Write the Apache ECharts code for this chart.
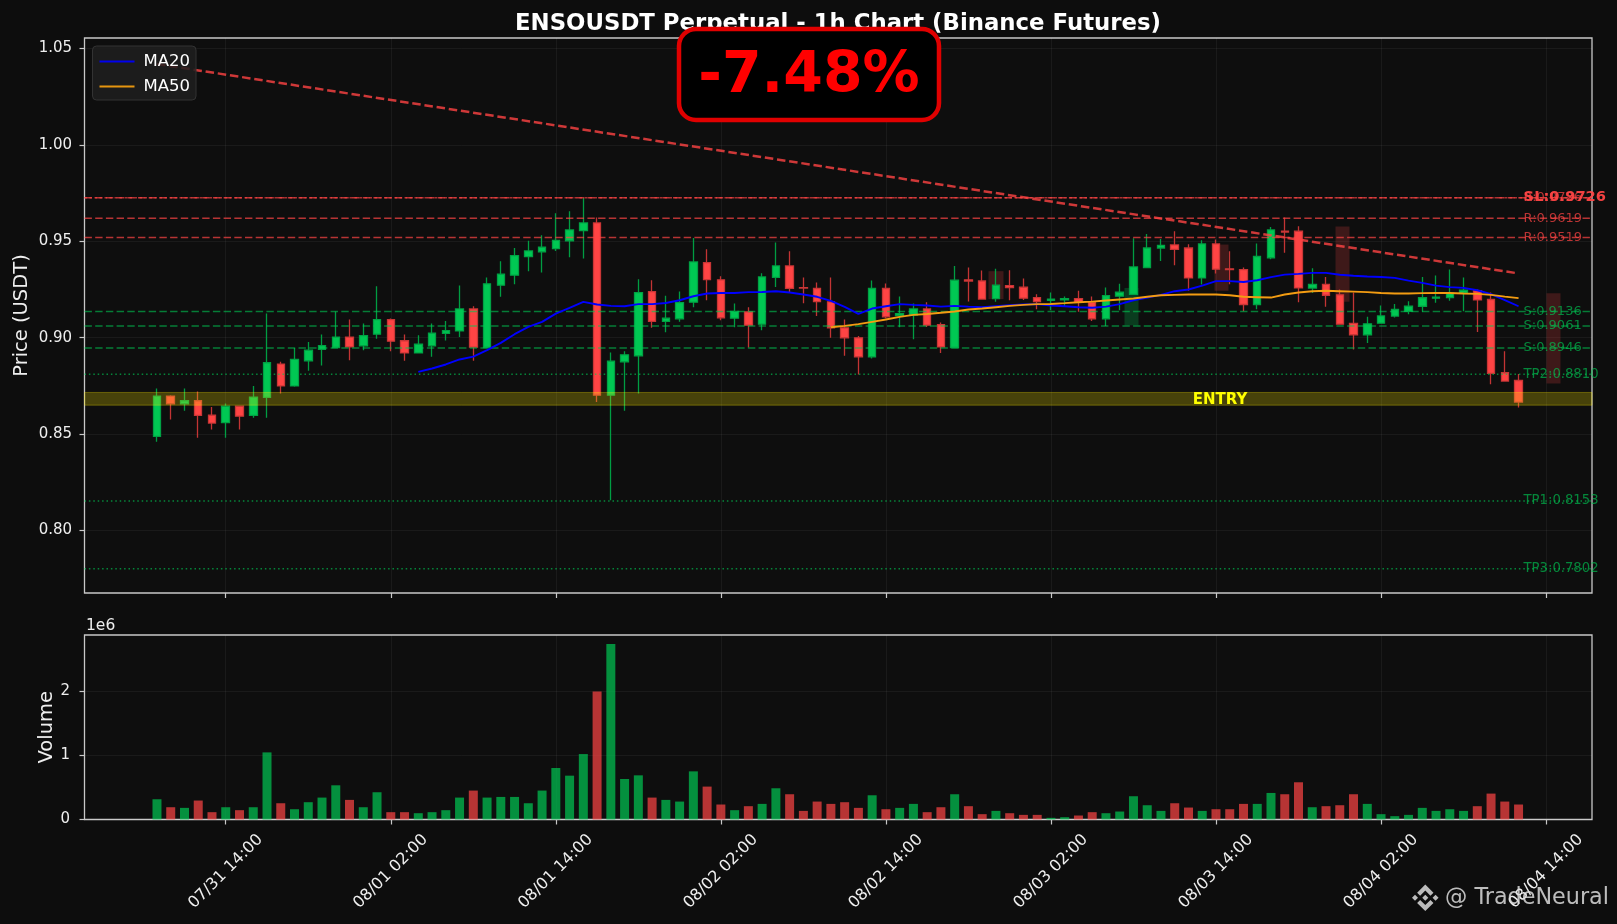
<!DOCTYPE html>
<html>
<head>
<meta charset="utf-8">
<style>html,body{margin:0;padding:0;background:#0d0d0d}#c{width:1617px;height:924px}</style>
<script src="https://cdn.jsdelivr.net/npm/echarts@6/dist/echarts.min.js"></script>
</head>
<body>
<div id="c"></div>
<script>
// x positions are hours counted from 07/31 00:00
const firstHour = 9;
const tickHours = [14, 26, 38, 50, 62, 74, 86, 98, 110];
const tickLabels = ['07/31 14:00','08/01 02:00','08/01 14:00','08/02 02:00','08/02 14:00','08/03 02:00','08/03 14:00','08/04 02:00','08/04 14:00'];
const priceTicks = [0.80, 0.85, 0.90, 0.95, 1.00, 1.05];
const volumeTicks = [0, 1000000, 2000000];

const opens = [.8488,.8697,.8657,.8673,.8598,.8560,.8645,.8597,.8690,.8863,.8750,.8880,.8940,.8949,.9003,.8958,.9018,.9094,.8984,.8921,
.8958,.9022,.9035,.9149,.8949,.9272,.9324,.9420,.9445,.9462,.9502,.9555,.9595,.8702,.8875,.8906,.9239,.9085,.9098,.9184,
.9389,.9300,.9101,.9134,.9070,.9313,.9372,.9260,.9255,.9186,.9051,.8999,.8901,.9255,.9115,.9117,.9149,.9068,.8949,.9300,
.9294,.9203,.9270,.9262,.9208,.9193,.9196,.9203,.9184,.9098,.9215,.9225,.9364,.9465,.9481,.9465,.9310,.9486,.9357,.9353,
.9172,.9414,.9552,.9552,.9257,.9276,.9222,.9074,.9015,.9075,.9112,.9136,.9163,.9205,.9208,.9232,.9243,.9198,.8818,.8778];
const closes = [.8697,.8657,.8673,.8597,.8557,.8645,.8593,.8692,.8870,.8750,.8887,.8935,.8959,.9003,.8952,.9011,.9094,.8982,.8921,.8966,
.9023,.9037,.9149,.8951,.9279,.9329,.9426,.9450,.9469,.9505,.9559,.9595,.8702,.8878,.8911,.9234,.9085,.9101,.9182,.9393,
.9301,.9103,.9136,.9065,.9315,.9372,.9256,.9257,.9187,.9051,.8999,.8901,.9255,.9108,.9125,.9149,.9065,.8952,.9298,.9294,
.9200,.9272,.9260,.9205,.9187,.9200,.9203,.9184,.9098,.9218,.9236,.9367,.9465,.9479,.9458,.9310,.9486,.9355,.9353,.9172,
.9421,.9559,.9548,.9258,.9276,.9220,.9070,.9015,.9072,.9113,.9146,.9163,.9207,.9210,.9231,.9246,.9196,.8815,.8775,.8666];
const lows = [.8460,.8576,.8621,.8481,.8524,.8481,.8524,.8585,.8585,.8711,.8745,.8828,.8856,.8947,.8883,.8935,.8994,.8930,.8880,.8921,
.8901,.8985,.9003,.8880,.8947,.9212,.9277,.9345,.9338,.9450,.9417,.9410,.8666,.8157,.8621,.8711,.9051,.9028,.9082,.9158,
.9194,.9091,.9054,.8949,.9039,.9263,.9236,.9179,.9113,.8999,.8906,.8809,.8892,.9099,.9054,.8992,.9056,.8921,.8947,.9187,
.9198,.9186,.9194,.9196,.9148,.9142,.9160,.9134,.9087,.9061,.9142,.9225,.9362,.9398,.9376,.9243,.9276,.9333,.9277,.9137,
.9148,.9407,.9440,.9184,.9232,.9160,.9068,.8939,.8973,.9074,.9105,.9122,.9134,.9181,.9191,.9137,.9030,.8759,.8771,.8638];
const highs = [.8737,.8702,.8737,.8721,.8640,.8659,.8645,.8749,.9125,.8875,.8947,.8978,.9016,.9136,.9094,.9073,.9267,.9099,.9016,.9013,
.9073,.9086,.9270,.9163,.9312,.9396,.9465,.9502,.9531,.9645,.9655,.9724,.9623,.8923,.8930,.9303,.9298,.9218,.9239,.9517,
.9458,.9319,.9177,.9158,.9334,.9493,.9448,.9312,.9286,.9312,.9094,.9009,.9296,.9281,.9213,.9177,.9184,.9079,.9372,.9364,
.9348,.9358,.9350,.9307,.9225,.9234,.9213,.9243,.9213,.9260,.9279,.9515,.9538,.9512,.9552,.9484,.9505,.9509,.9448,.9364,
.9488,.9574,.9623,.9578,.9360,.9315,.9250,.9234,.9108,.9167,.9174,.9189,.9315,.9322,.9353,.9312,.9250,.9234,.8930,.8811];
const volumes = [315,191,181,295,114,191,145,191,1044,253,160,269,341,532,305,191,424,114,114,98,
114,145,341,450,341,351,351,253,450,801,682,1018,1990,2729,630,687,341,305,279,749,
512,233,145,207,243,486,393,134,279,243,269,181,377,160,181,243,114,191,393,207,
83,134,98,72,72,26,36,62,114,98,124,362,222,134,253,186,134,160,160,243,
243,413,393,579,191,207,222,393,243,83,52,72,181,134,160,134,207,403,279,233];
const ma20Values = [.8823,.8840,.8861,.8887,.8902,.8935,.8973,.9018,.9056,.9082,.9125,.9155,.9186,.9172,.9165,.9163,.9174,.9174,.9180,.9194,
.9215,.9229,.9232,.9232,.9236,.9237,.9241,.9234,.9224,.9212,.9191,.9160,.9123,.9151,.9163,.9174,.9170,.9167,.9161,.9165,
.9161,.9158,.9163,.9168,.9172,.9174,.9167,.9163,.9158,.9155,.9161,.9174,.9194,.9208,.9222,.9241,.9250,.9270,.9293,.9293,
.9289,.9298,.9314,.9327,.9331,.9336,.9336,.9326,.9321,.9317,.9315,.9310,.9296,.9284,.9270,.9262,.9258,.9246,.9226,.9195,.9163];
const ma50Values = [.9054,.9061,.9070,.9082,.9094,.9108,.9118,.9123,.9129,.9136,.9146,.9151,.9158,.9165,.9170,.9174,.9175,.9179,.9184,.9187,
.9193,.9198,.9203,.9212,.9220,.9222,.9224,.9224,.9224,.9220,.9212,.9210,.9208,.9224,.9234,.9241,.9243,.9241,.9239,.9236,
.9232,.9229,.9229,.9231,.9232,.9232,.9229,.9227,.9222,.9213,.9205];
const trendValues = [1.0419, .9333];
const redLevels = [.9726, .9619, .9519];
const redNames = ['R:0.9726', 'R:0.9619', 'R:0.9519'];
const supportLevels = [.9136, .9061, .8946];
const supportNames = ['S:0.9136', 'S:0.9061', 'S:0.8946'];
const tpLevels = [.8810, .8153, .7802];
const tpNames = ['TP2:0.8810', 'TP1:0.8153', 'TP3:0.7802'];
const stopLevel = .9726;
const stopName = 'SL:0.9726';
const entryLow = .8650, entryHigh = .8716;
const entryHour = 86.3, entryLabelPrice = .8675;
const redZones = [[70, .9345, .92], [86.4, .9483, .9243], [95.2, .9576, .9186], [110.55, .9231, .8763]];
const greenZones = [[79.86, .9258, .9064]];

const BG = '#0d0d0d', TXT = '#eeeeee', SPINE = '#c8c8c8', UP = '#00c853', DOWN = '#ff4444';
const xMin = 3.73, xMax = 113.34;
const hourAt = i => firstHour + i;
const lastHour = hourAt(99);

const candleData = opens.map((o, i) => [hourAt(i), o, closes[i], lows[i], highs[i]]);
const volumeData = volumes.map((v, i) => ({
  value: [hourAt(i), v * 1000],
  itemStyle: { color: closes[i] >= opens[i] ? 'rgba(0,200,83,0.7)' : 'rgba(255,68,68,0.7)' }
}));
const ma20Data = ma20Values.map((v, i) => [hourAt(i + 19), v]);
const ma50Data = ma50Values.map((v, i) => [hourAt(i + 49), v]);

function hLine(v, color, type, width, opacity) {
  return {
    type: 'line', xAxisIndex: 0, yAxisIndex: 0, z: 6, silent: true, symbol: 'none',
    data: [[xMin, v], [xMax, v]],
    lineStyle: { color, type, width, opacity }
  };
}
function levelLabels(levels, names, color, extra) {
  return {
    type: 'scatter', xAxisIndex: 0, yAxisIndex: 0, z: 7, silent: true, symbolSize: 0, clip: false,
    itemStyle: { opacity: 1 },
    data: levels.map((v, i) => ({ value: [lastHour, v], name: names[i] })),
    label: Object.assign({ show: true, position: 'right', distance: 5, formatter: p => p.name,
      color, fontFamily: 'DejaVu Sans', fontSize: 13 }, extra || {})
  };
}
function zoneSeries(zones, color) {
  return {
    type: 'candlestick', xAxisIndex: 0, yAxisIndex: 0, z: 3, silent: true, barWidth: 15,
    data: zones.map(z => [z[0], z[2], z[1], z[2], z[1]]),
    itemStyle: { color, color0: color, borderColor: color, borderColor0: color, borderWidth: 0 }
  };
}
const tickFmt = v => { const k = tickHours.indexOf(v); return k >= 0 ? tickLabels[k] : ''; };
const splitStyle = { show: true, lineStyle: { color: 'rgba(255,255,255,0.05)', width: 1, type: 'solid' } };
const axisTickStyle = { show: true, length: 5, lineStyle: { color: SPINE, width: 1.2 } };
const iconPieces = [
  [[38.73,53.2],[63.3,28.63],[87.9,53.22],[102.2,38.92],[63.3,0],[24.43,38.9]],
  [[0,63.31],[14.3,49.01],[28.6,63.31],[14.3,77.61]],
  [[38.73,73.41],[63.3,97.98],[87.9,73.39],[102.21,87.69],[63.3,126.61],[24.42,87.72]],
  [[98.01,63.31],[112.31,49.01],[126.61,63.31],[112.31,77.61]],
  [[77.81,63.3],[63.3,48.79],[48.8,63.3],[63.3,77.81]]
];

const chart = echarts.init(document.getElementById('c'), null, { renderer: 'canvas' });
chart.setOption({
  animation: false,
  backgroundColor: BG,
  textStyle: { fontFamily: 'DejaVu Sans' },
  title: {
    text: 'ENSOUSDT Perpetual - 1h Chart (Binance Futures)', left: 833, top: 8, textAlign: 'center',
    textStyle: { color: '#ffffff', fontSize: 22.8, fontWeight: 'bold', fontFamily: 'DejaVu Sans' }
  },
  legend: {
    z: 20, left: 92.5, top: 46, orient: 'vertical', padding: [7, 6, 5, 7], itemGap: 8, itemWidth: 35, itemHeight: 2,
    backgroundColor: 'rgba(30,30,30,0.85)', borderColor: '#333333', borderWidth: 1, borderRadius: 4,
    textStyle: { color: '#ffffff', fontSize: 16.5, fontFamily: 'DejaVu Sans', padding: [0, 0, 0, 4] },
    data: [{ name: 'MA20', icon: 'rect' }, { name: 'MA50', icon: 'rect' }]
  },
  grid: [
    { left: 84.5, right: 25, top: 38, height: 555, show: true, outerBoundsMode: 'none', backgroundColor: '#0e0e0e', borderColor: SPINE, borderWidth: 1.3 },
    { left: 84.5, right: 25, top: 635, height: 184.5, show: true, outerBoundsMode: 'none', backgroundColor: '#0e0e0e', borderColor: SPINE, borderWidth: 1.3 }
  ],
  xAxis: [
    { type: 'value', gridIndex: 0, min: xMin, max: xMax, axisLine: { show: false },
      axisTick: Object.assign({ customValues: tickHours }, axisTickStyle),
      axisLabel: { show: false }, splitLine: splitStyle },
    { type: 'value', gridIndex: 1, min: xMin, max: xMax, axisLine: { show: false },
      axisTick: Object.assign({ customValues: tickHours }, axisTickStyle),
      axisLabel: { customValues: tickHours, formatter: tickFmt, rotate: 45, align: 'center', verticalAlign: 'middle',
        margin: 52, color: TXT, fontSize: 16, fontFamily: 'DejaVu Sans', hideOverlap: false },
      splitLine: splitStyle }
  ],
  yAxis: [
    { type: 'value', gridIndex: 0, min: .7676, max: 1.0554, axisLine: { show: false },
      axisTick: Object.assign({ customValues: priceTicks }, axisTickStyle),
      axisLabel: { customValues: priceTicks, formatter: v => v.toFixed(2), color: TXT, fontSize: 15, margin: 12.4, padding: [0, 0, 0, 0], fontFamily: 'DejaVu Sans', lineHeight: 17 },
      splitLine: splitStyle,
      name: 'Price (USDT)', nameLocation: 'middle', nameRotate: 90, nameGap: 53, nameMoveOverlap: false,
      nameTextStyle: { color: TXT, fontSize: 19.5, fontFamily: 'DejaVu Sans' } },
    { type: 'value', gridIndex: 1, min: 0, max: 2870000, axisLine: { show: false },
      axisTick: Object.assign({ customValues: volumeTicks }, axisTickStyle),
      axisLabel: { customValues: volumeTicks, formatter: v => String(v / 1000000), color: TXT, fontSize: 15, margin: 14.5, padding: [0, 0, 3, 0], fontFamily: 'DejaVu Sans' },
      splitLine: splitStyle,
      name: 'Volume', nameLocation: 'middle', nameRotate: 90, nameGap: 28, nameMoveOverlap: false,
      nameTextStyle: { color: TXT, fontSize: 19.5, fontFamily: 'DejaVu Sans' } }
  ],
  series: [
    zoneSeries(redZones, 'rgba(255,68,68,0.2)'),
    zoneSeries(greenZones, 'rgba(0,200,83,0.25)'),
    {
      type: 'candlestick', name: 'Candles', xAxisIndex: 0, yAxisIndex: 0, z: 4, barWidth: 8, data: candleData, silent: true,
      itemStyle: { color: UP, color0: DOWN, borderColor: 'rgba(0,165,70,0.95)', borderColor0: 'rgba(205,55,55,0.95)', borderColorDoji: 'rgba(0,165,70,0.95)', borderWidth: 1.3 }
    },
    {
      type: 'bar', name: 'Volume', xAxisIndex: 1, yAxisIndex: 1, barWidth: 9, data: volumeData, silent: true, z: 4
    },
    { type: 'line', name: 'MA20', xAxisIndex: 0, yAxisIndex: 0, z: 8, symbol: 'none', silent: true, data: ma20Data,
      lineStyle: { color: '#0000ff', width: 1.9 }, itemStyle: { color: '#0000ee' } },
    { type: 'line', name: 'MA50', xAxisIndex: 0, yAxisIndex: 0, z: 9, symbol: 'none', silent: true, data: ma50Data,
      lineStyle: { color: '#f39c12', width: 1.9 }, itemStyle: { color: '#e6950f' } },
    { type: 'line', name: 'Trend', xAxisIndex: 0, yAxisIndex: 0, z: 10, symbol: 'none', silent: true,
      data: [[hourAt(0), trendValues[0]], [hourAt(99), trendValues[1]]],
      lineStyle: { color: 'rgba(255,68,68,0.8)', width: 2.5, type: [8.5, 3.8] } },
    { type: 'line', name: 'Entry', xAxisIndex: 0, yAxisIndex: 0, z: 5, symbol: 'none', silent: true,
      data: [[xMin, entryLow]], lineStyle: { opacity: 0 },
      markArea: { z: 5, silent: true, itemStyle: { color: 'rgba(255,235,0,0.24)', borderColor: 'rgba(255,235,0,0.3)', borderWidth: 1 },
        data: [[{ coord: [xMin, entryHigh] }, { coord: [xMax, entryLow] }]] } },
    ...redLevels.map(v => hLine(v, DOWN, [7.4, 3.3], 1.5, 0.7)),
    hLine(stopLevel, DOWN, [2.5, 2.5], 1.5, 0.65),
    ...supportLevels.map(v => hLine(v, UP, [7.4, 3.3], 1.5, 0.6)),
    ...tpLevels.map(v => hLine(v, UP, [1.5, 2.9], 1.5, 0.65)),
    levelLabels(redLevels, redNames, 'rgba(255,68,68,0.72)'),
    levelLabels(supportLevels, supportNames, 'rgba(0,200,83,0.65)'),
    levelLabels(tpLevels, tpNames, 'rgba(0,200,83,0.65)', { fontSize: 13.2 }),
    levelLabels([stopLevel], [stopName], 'rgba(255,68,68,0.95)', { fontWeight: 'bold', fontSize: 14.7 }),
    { type: 'scatter', xAxisIndex: 0, yAxisIndex: 0, z: 11, silent: true, symbolSize: 0, clip: false,
      itemStyle: { opacity: 1 },
      data: [{ value: [entryHour, entryLabelPrice], name: 'ENTRY' }],
      label: { show: true, position: 'inside', formatter: p => p.name, color: '#ffff00', fontWeight: 'bold', fontSize: 15, fontFamily: 'DejaVu Sans' } }
  ],
  graphic: [
    { type: 'rect', z: 100, shape: { x: 679, y: 29, width: 260, height: 91, r: 17 }, style: { fill: '#000000', stroke: '#e00000', lineWidth: 4.5 } },
    { type: 'text', z: 101, x: 809, y: 77, style: { text: '-7.48%', fill: '#ff0000', fontSize: 57, fontWeight: 'bold', fontFamily: 'DejaVu Sans', textAlign: 'center', textVerticalAlign: 'middle' } },
    { type: 'text', z: 50, x: 86, y: 626, style: { text: '1e6', fill: TXT, fontSize: 15.5, fontFamily: 'DejaVu Sans', textVerticalAlign: 'middle' } },
    { type: 'text', z: 120, x: 1445, y: 898, style: { text: '@ TradeNeural', fill: 'rgba(220,220,220,0.85)', fontSize: 22.3, fontFamily: 'DejaVu Sans', textVerticalAlign: 'middle' } },
    ...iconPieces.map(points => ({ type: 'polygon', z: 120, x: 1412, y: 884.5, scaleX: 0.21, scaleY: 0.21, shape: { points }, style: { fill: 'rgba(220,220,220,0.85)' } }))
  ]
});
</script>
</body>
</html>
